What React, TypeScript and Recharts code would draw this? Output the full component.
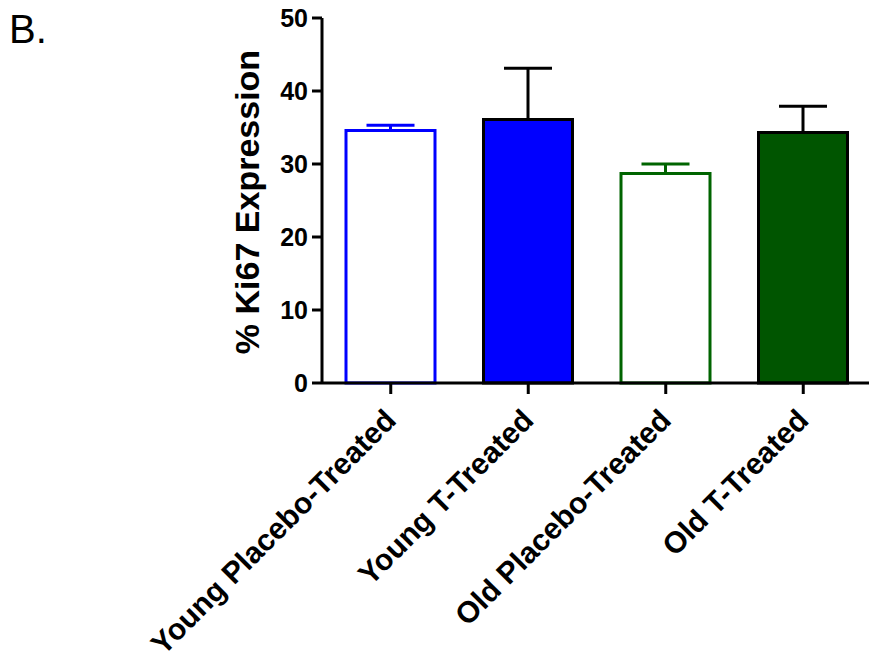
import { Bar, BarChart, ErrorBar, XAxis, YAxis } from "recharts";

const groups = [
  "Young Placebo-Treated",
  "Young T-Treated",
  "Old Placebo-Treated",
  "Old T-Treated",
];
const seriesKeys = ["yp", "yt", "op", "ot"];
const means = [34.6, 36.1, 28.7, 34.3];
const sems = [0.7, 7.0, 1.3, 3.6];
const yTicks = [0, 10, 20, 30, 40, 50];

const fills = ["#ffffff", "#0000ff", "#ffffff", "#005500"];
const strokes = ["#0000ff", "#000000", "#006400", "#000000"];
const errColors = ["#0000ff", "#000000", "#006400", "#000000"];

const data = groups.map((name, i) => ({
  name,
  [seriesKeys[i]]: means[i],
  [seriesKeys[i] + "Err"]: [0, sems[i]],
}));

const font = "'Liberation Sans', Arial, Helvetica, sans-serif";

function GroupTick({ x, y, payload }: any) {
  const ax = x + 7;
  const ay = y + 26;
  return (
    <text
      x={ax}
      y={ay}
      transform={`rotate(-45, ${ax}, ${ay})`}
      textAnchor="end"
      fontSize={30}
      fontWeight="bold"
      fontFamily={font}
      fill="#000"
    >
      {payload.value}
    </text>
  );
}

function YTitle() {
  return (
    <text
      x={259}
      y={202}
      transform="rotate(-90, 259, 202)"
      textAnchor="middle"
      fontSize={34}
      fontWeight="bold"
      fontFamily={font}
      fill="#000"
    >
      % Ki67 Expression
    </text>
  );
}

export default function App() {
  return (
    <div
      style={{
        position: "absolute",
        left: 0,
        top: 0,
        width: 869,
        height: 666,
        overflow: "hidden",
        background: "#fff",
      }}
    >
      <svg
        width={120}
        height={60}
        style={{ position: "absolute", left: 0, top: 0 }}
      >
        <text x={9} y={43} fontSize={40} fontFamily={font} fill="#000">
          B.
        </text>
      </svg>
      <BarChart
        width={872}
        height={666}
        data={data}
        margin={{ top: 18, right: 0, bottom: 0, left: 0 }}
      >
        <XAxis
          dataKey="name"
          height={283}
          interval={0}
          tick={<GroupTick />}
          tickSize={11}
          tickMargin={2}
          axisLine={{ stroke: "#000", strokeWidth: 3 }}
          tickLine={{ stroke: "#000", strokeWidth: 3 }}
        />
        <YAxis
          width={322}
          domain={[0, 50]}
          ticks={yTicks}
          interval={0}
          tickSize={10}
          tickMargin={4}
          axisLine={{ stroke: "#000", strokeWidth: 3 }}
          tickLine={{ stroke: "#000", strokeWidth: 3 }}
          tick={{
            fill: "#000",
            fontSize: 25,
            fontWeight: "bold",
            fontFamily: font,
          }}
          label={{ content: () => <YTitle /> }}
        />
        {seriesKeys.map((k, i) => (
          <Bar
            key={k}
            dataKey={k}
            stackId="g"
            barSize={89}
            fill={fills[i]}
            stroke={strokes[i]}
            strokeWidth={3}
            isAnimationActive={false}
          >
            <ErrorBar
              dataKey={k + "Err"}
              width={24}
              stroke={errColors[i]}
              strokeWidth={3}
              direction="y"
            />
          </Bar>
        ))}
      </BarChart>
    </div>
  );
}
